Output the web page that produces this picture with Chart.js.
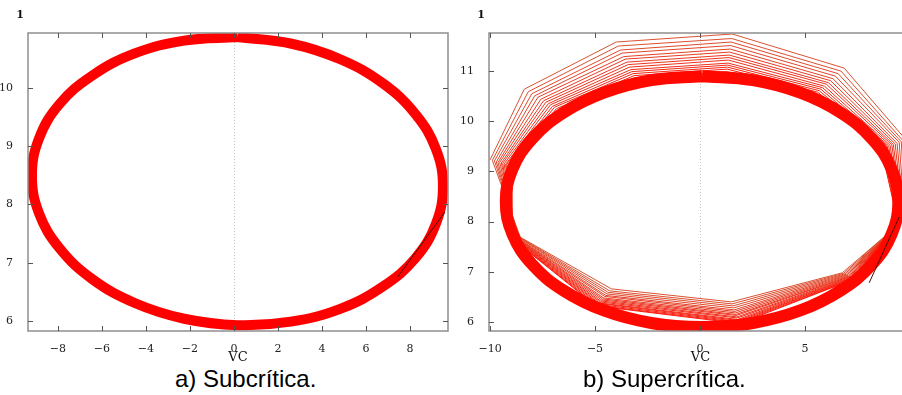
<!DOCTYPE html>
<html>
<head>
<meta charset="utf-8">
<script src="https://cdn.jsdelivr.net/npm/chart.js@4.4.1/dist/chart.umd.min.js"></script>
<style>
html, body { margin: 0; padding: 0; background: #fff; overflow: hidden; }
#wrap { position: relative; width: 902px; height: 395px; overflow: hidden; }
canvas { position: absolute; top: 0; }
#cA { left: 0; }
#cB { left: 440px; }
.cap { position: absolute; top: 367px; font-family: "Liberation Sans", Arial, sans-serif; font-size: 24px; line-height: 24px; color: #000; white-space: nowrap; }
</style>
</head>
<body>
<div id="wrap">
  <canvas id="cA" width="460" height="365"></canvas>
  <canvas id="cB" width="480" height="365"></canvas>
  <div class="cap" style="left:175px">a) Subcrítica.</div>
  <div class="cap" style="left:583px">b) Supercrítica.</div>
</div>
<script>
// a) subcritical: limit cycle (read off the picture)
var subX = [0.16, -2.26, -4.51, -6.44, -7.93, -8.86, -9.18, -8.86, -7.93, -6.44, -4.51, -2.26, 0.16, 2.58, 4.83, 6.76, 8.25, 9.18, 9.50, 9.18, 8.25, 6.76, 4.83, 2.58, 0.16];
var subY = [10.87, 10.81, 10.59, 10.21, 9.72, 9.13, 8.49, 7.85, 7.25, 6.72, 6.31, 6.04, 5.93, 5.99, 6.21, 6.59, 7.08, 7.67, 8.31, 8.95, 9.55, 10.08, 10.49, 10.76, 10.87];
var subStartX = [7.45, 9.59];
var subStartY = [6.76, 7.87];

// b) supercritical: limit cycle
var supX = [0.10, -2.32, -4.58, -6.51, -8.00, -8.93, -9.25, -8.93, -8.00, -6.51, -4.58, -2.32, 0.10, 2.52, 4.78, 6.71, 8.20, 9.13, 9.45, 9.13, 8.20, 6.71, 4.78, 2.52, 0.10];
var supY = [10.90, 10.82, 10.57, 10.17, 9.65, 9.05, 8.40, 7.75, 7.15, 6.63, 6.23, 5.98, 5.90, 5.98, 6.23, 6.63, 7.15, 7.75, 8.40, 9.05, 9.65, 10.17, 10.57, 10.82, 10.90];
var supStartX = [8.06, 9.49];
var supStartY = [6.78, 8.09];

// b) supercritical: sampled transient, one row per turn (outer to inner)
var loopX = [
  [-10.00, -8.37, -3.99, 1.54, 6.87, 9.83, 9.90, 6.78, 1.49, -4.22, -8.56],
  [-9.89, -8.18, -3.89, 1.51, 6.72, 9.70, 9.85, 6.85, 1.53, -4.30, -8.60],
  [-9.79, -8.01, -3.79, 1.48, 6.58, 9.59, 9.80, 6.91, 1.57, -4.37, -8.64],
  [-9.70, -7.87, -3.71, 1.46, 6.45, 9.49, 9.75, 6.97, 1.60, -4.43, -8.68],
  [-9.62, -7.72, -3.63, 1.44, 6.33, 9.39, 9.71, 7.02, 1.63, -4.49, -8.71],
  [-9.54, -7.58, -3.55, 1.41, 6.22, 9.30, 9.67, 7.07, 1.66, -4.54, -8.75],
  [-9.46, -7.45, -3.48, 1.39, 6.12, 9.21, 9.64, 7.12, 1.69, -4.60, -8.78],
  [-9.40, -7.34, -3.42, 1.38, 6.02, 9.14, 9.60, 7.16, 1.71, -4.64, -8.80],
  [-9.33, -7.23, -3.36, 1.36, 5.93, 9.06, 9.57, 7.20, 1.73, -4.69, -8.83],
  [-9.26, -7.12, -3.29, 1.34, 5.84, 8.99, 9.54, 7.24, 1.76, -4.74, -8.86],
  [-9.21, -7.02, -3.24, 1.32, 5.76, 8.92, 9.51, 7.28, 1.78, -4.77, -8.88],
  [-9.15, -6.93, -3.19, 1.31, 5.68, 8.86, 9.48, 7.31, 1.80, -4.81, -8.90],
  [-9.10, -6.84, -3.14, 1.29, 5.61, 8.80, 9.46, 7.35, 1.82, -4.85, -8.92],
  [-9.04, -6.74, -3.09, 1.28, 5.53, 8.73, 9.43, 7.38, 1.84, -4.89, -8.94],
  [-9.00, -6.67, -3.04, 1.27, 5.47, 8.68, 9.41, 7.41, 1.85, -4.92, -8.96],
  [-8.96, -6.59, -3.00, 1.26, 5.41, 8.63, 9.39, 7.44, 1.87, -4.95, -8.98]
];
var loopY = [
  [9.23, 10.64, 11.58, 11.74, 11.06, 9.62, 8.10, 6.98, 6.40, 6.66, 7.69],
  [9.22, 10.59, 11.50, 11.65, 11.00, 9.60, 8.10, 6.97, 6.36, 6.62, 7.69],
  [9.21, 10.55, 11.42, 11.58, 10.95, 9.59, 8.09, 6.96, 6.32, 6.59, 7.69],
  [9.19, 10.51, 11.36, 11.51, 10.90, 9.58, 8.09, 6.95, 6.28, 6.56, 7.69],
  [9.18, 10.48, 11.29, 11.44, 10.85, 9.56, 8.08, 6.94, 6.24, 6.53, 7.68],
  [9.18, 10.44, 11.24, 11.38, 10.81, 9.55, 8.08, 6.93, 6.21, 6.51, 7.68],
  [9.17, 10.41, 11.18, 11.32, 10.77, 9.54, 8.08, 6.92, 6.18, 6.48, 7.68],
  [9.16, 10.38, 11.13, 11.27, 10.74, 9.53, 8.07, 6.91, 6.15, 6.46, 7.68],
  [9.15, 10.35, 11.08, 11.22, 10.70, 9.52, 8.07, 6.91, 6.13, 6.44, 7.68],
  [9.14, 10.33, 11.03, 11.16, 10.67, 9.51, 8.07, 6.90, 6.10, 6.42, 7.68],
  [9.14, 10.30, 10.99, 11.12, 10.64, 9.51, 8.06, 6.89, 6.08, 6.40, 7.68],
  [9.13, 10.28, 10.95, 11.08, 10.61, 9.50, 8.06, 6.89, 6.05, 6.38, 7.68],
  [9.12, 10.25, 10.91, 11.04, 10.58, 9.49, 8.06, 6.88, 6.03, 6.37, 7.67],
  [9.12, 10.23, 10.87, 10.99, 10.55, 9.48, 8.06, 6.88, 6.01, 6.35, 7.67],
  [9.11, 10.21, 10.83, 10.96, 10.52, 9.47, 8.05, 6.87, 5.99, 6.33, 7.67],
  [9.11, 10.19, 10.80, 10.92, 10.50, 9.47, 8.05, 6.87, 5.97, 6.32, 7.67]
];

var yTitle = '1';
var xTitle = 'VC';

function pts(xs, ys) {
  return xs.map(function (x, i) { return { x: x, y: ys[i] }; });
}

var gnuFrame = {
  id: 'gnuFrame',
  beforeDatasetsDraw: function (chart) {
    var a = chart.chartArea, ctx = chart.ctx;
    var x0 = Math.round(chart.scales.x.getPixelForValue(0)) + 0.5;
    ctx.save();
    ctx.strokeStyle = '#c4c4c4';
    ctx.lineWidth = 1;
    ctx.setLineDash([1, 2]);
    ctx.beginPath();
    ctx.moveTo(x0, a.top);
    ctx.lineTo(x0, a.bottom);
    ctx.stroke();
    ctx.restore();
  },
  afterDraw: function (chart) {
    var a = chart.chartArea, ctx = chart.ctx;
    var xs = chart.scales.x, ys = chart.scales.y;
    ctx.save();
    ctx.strokeStyle = '#8e8e8e';
    ctx.lineWidth = 1.5;
    ctx.strokeRect(a.left, a.top, a.right - a.left, a.bottom - a.top);
    ctx.strokeStyle = '#555';
    ctx.lineWidth = 1;
    ctx.beginPath();
    xs.ticks.forEach(function (t) {
      var p = Math.round(xs.getPixelForValue(t.value)) + 0.5;
      ctx.moveTo(p, a.bottom); ctx.lineTo(p, a.bottom - 5);
      ctx.moveTo(p, a.top); ctx.lineTo(p, a.top + 5);
    });
    ys.ticks.forEach(function (t) {
      var p = Math.round(ys.getPixelForValue(t.value)) + 0.5;
      ctx.moveTo(a.left, p); ctx.lineTo(a.left + 5, p);
      ctx.moveTo(a.right, p); ctx.lineTo(a.right - 5, p);
    });
    ctx.stroke();
    ctx.fillStyle = '#111';
    ctx.textAlign = 'center';
    ctx.textBaseline = 'middle';
    ctx.font = 'bold 11px "DejaVu Serif"';
    ctx.fillText(yTitle, a.left - 8, a.top - 18);
    ctx.font = '13px "DejaVu Serif"';
    ctx.fillText(xTitle, (a.left + a.right) / 2, 358);
    ctx.restore();
  }
};

function makeChart(id, datasets, xMin, xMax, xStep, xLabelMax, yMin, yMax, yAxisW, padRight) {
  var tickFont = { family: 'DejaVu Serif', size: 11 };
  return new Chart(document.getElementById(id), {
    type: 'scatter',
    data: { datasets: datasets },
    options: {
      responsive: false,
      animation: false,
      layout: { padding: { top: 33, right: padRight, left: 0, bottom: 0 } },
      elements: { point: { radius: 0 } },
      plugins: { legend: { display: false }, tooltip: { enabled: false } },
      scales: {
        x: {
          min: xMin, max: xMax,
          afterFit: function (s) { s.height = 34; },
          grid: { display: false }, border: { display: false },
          ticks: {
            stepSize: xStep, includeBounds: false, padding: 4, color: '#222', font: tickFont,
            maxRotation: 0, autoSkip: false,
            callback: function (v) {
              if (v > xLabelMax) return '';
              return v < 0 ? '\u2212' + Math.abs(v) : String(v);
            }
          }
        },
        y: {
          min: yMin, max: yMax,
          afterFit: function (s) { s.width = yAxisW; },
          grid: { display: false }, border: { display: false },
          ticks: { stepSize: 1, includeBounds: false, padding: 7, color: '#222', font: tickFont }
        }
      }
    },
    plugins: [gnuFrame]
  });
}

// left chart
makeChart('cA', [
  { data: pts(subStartX, subStartY), showLine: true, borderColor: '#4a0a00', borderWidth: 1, clip: 0 },
  { data: pts(subX, subY), showLine: true, borderColor: '#ff0000', borderWidth: 10, tension: 0.4, clip: 0 }
], -9.36, 9.73, 2, 9, 5.83, 10.94, 28, 12);

// right chart
var supSets = [
  { data: pts(supStartX, supStartY), showLine: true, borderColor: '#4a0a00', borderWidth: 1, clip: 0 },
  { data: pts(supX, supY), showLine: true, borderColor: '#ff0800', borderWidth: 12, tension: 0.4, clip: 0 }
];
for (var i = 0; i < loopX.length; i++) {
  var p = pts(loopX[i], loopY[i]);
  var n = i + 1 < loopX.length ? i + 1 : i;
  p.push({ x: loopX[n][0], y: loopY[n][0] });
  var t = i / (loopX.length - 1);
  var col = 'rgb(' + Math.round(218 + 37 * t) + ',' + Math.round(82 - 62 * t) + ',' + Math.round(50 - 42 * t) + ')';
  supSets.push({ data: p, showLine: true, borderColor: col, borderWidth: 1, tension: 0, clip: 0 });
}
makeChart('cB', supSets, -10.05, 10.1, 5, 9, 5.82, 11.76, 49, 8);
</script>
</body>
</html>
